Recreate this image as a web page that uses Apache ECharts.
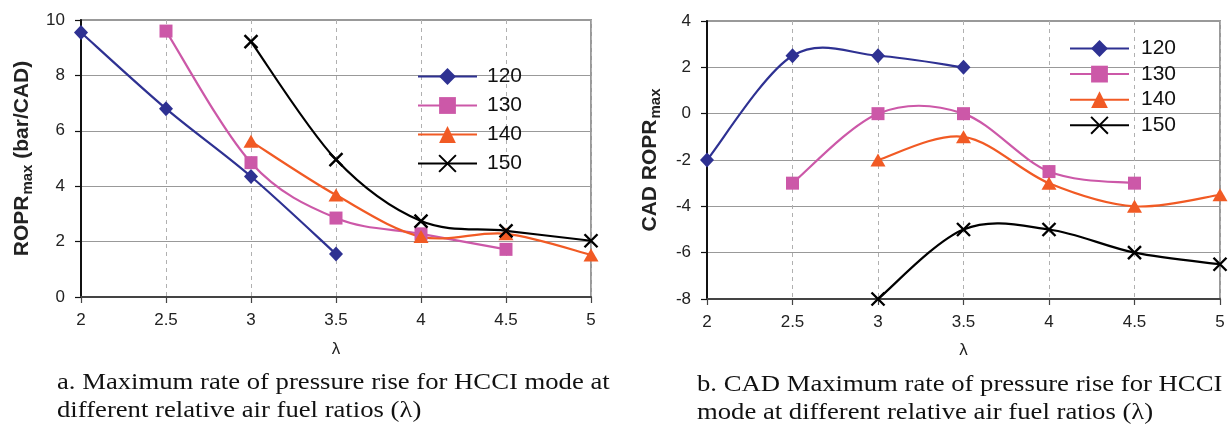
<!DOCTYPE html>
<html>
<head>
<meta charset="utf-8">
<script src="https://cdn.jsdelivr.net/npm/echarts@6/dist/echarts.min.js"></script>
<style>
html,body{margin:0;padding:0;background:#fff;}
#c{width:1229px;height:424px;}
</style>
</head>
<body>
<div id="c"></div>
<script>
// ---- data ----
const lambda = [2, 2.5, 3, 3.5, 4, 4.5, 5];
const xTickLabels = ['2', '2.5', '3', '3.5', '4', '4.5', '5'];
const seriesNames = ['120', '130', '140', '150'];
// (a) ROPR max (bar/CAD)
const ropr120 = [9.55, 6.8, 4.35, 1.55, null, null, null];
const ropr130 = [null, 9.6, 4.85, 2.85, 2.28, 1.72, null];
const ropr140 = [null, null, 5.62, 3.68, 2.18, 2.28, 1.52];
const ropr150 = [null, null, 9.22, 4.96, 2.74, 2.39, 2.03];
const roprTicks = ['0', '2', '4', '6', '8', '10'];
// (b) CAD ROPR max
const cad120 = [-2, 2.5, 2.5, 2, null, null, null];
const cad130 = [null, -3, 0, 0, -2.5, -3, null];
const cad140 = [null, null, -2, -1, -3, -4, -3.5];
const cad150 = [null, null, -8, -5, -5, -6, -6.5];
const cadTicks = ['-8', '-6', '-4', '-2', '0', '2', '4'];
const captionA = ['a. Maximum rate of pressure rise for HCCI mode at', 'different relative air fuel ratios (λ)'];
const captionB = ['b. CAD Maximum rate of pressure rise for HCCI', 'mode at different relative air fuel ratios (λ)'];

// ---- styling ----
const colors = ['#2E3192', '#CC58A8', '#F15A24', '#000000'];
const crossPath = 'path://M0,0L10,10M10,0L0,10';
const symbols = ['diamond', 'rect', 'triangle', crossPath];
const symSizes = [[14, 15], [13, 13], [15, 13], [13, 13]];
const FONT = 'Liberation Sans, Arial, sans-serif';

function pairs(vals) {
  const out = [];
  lambda.forEach((x, i) => { if (vals[i] !== null) out.push([x, vals[i]]); });
  return out;
}

// marker series (line hidden; the smooth curve is drawn by the custom series)
function markerSeries(vals, k, axisIdx) {
  const isCross = k === 3;
  return {
    name: seriesNames[k],
    type: 'line',
    xAxisIndex: axisIdx,
    yAxisIndex: axisIdx,
    data: pairs(vals),
    clip: false,
    symbol: symbols[k],
    symbolSize: symSizes[k],
    showSymbol: true,
    lineStyle: { color: colors[k], width: 2.2, opacity: 0 },
    itemStyle: isCross
      ? { color: colors[k], borderColor: colors[k], borderWidth: 2.4 }
      : { color: colors[k], borderWidth: 0 },
    emphasis: { disabled: true },
    z: 5 + k
  };
}

// smoothed curve (Catmull-Rom style Bezier, like a spreadsheet "smoothed line"),
// positioned through the chart's own axes with api.coord
function curveSeries(vals, k, axisIdx) {
  const pts = pairs(vals);
  return {
    type: 'custom',
    coordinateSystem: 'cartesian2d',
    xAxisIndex: axisIdx,
    yAxisIndex: axisIdx,
    data: pts,
    encode: { x: 0, y: 1 },
    silent: true,
    clip: false,
    z: 2 + k,
    renderItem: function (params, api) {
      if (params.dataIndex !== 0) return null;
      const p = pts.map(d => api.coord(d));
      let d = 'M' + p[0][0] + ',' + p[0][1];
      for (let i = 0; i < p.length - 1; i++) {
        const p0 = p[i - 1] || p[i], p1 = p[i], p2 = p[i + 1], p3 = p[i + 2] || p[i + 1];
        const c1x = p1[0] + (p2[0] - p0[0]) / 6, c1y = p1[1] + (p2[1] - p0[1]) / 6;
        const c2x = p2[0] - (p3[0] - p1[0]) / 6, c2y = p2[1] - (p3[1] - p1[1]) / 6;
        d += ' C' + c1x + ',' + c1y + ' ' + c2x + ',' + c2y + ' ' + p2[0] + ',' + p2[1];
      }
      return {
        type: 'path',
        shape: { pathData: d },
        style: { stroke: colors[k], lineWidth: 2.2, fill: 'none' }
      };
    }
  };
}

function xAxisFor(gi, nameGap) {
  return {
    type: 'value', gridIndex: gi, min: 2, max: 5, interval: 0.5,
    name: 'λ', nameLocation: 'middle', nameGap: nameGap,
    nameTextStyle: { fontFamily: FONT, fontSize: 17, color: '#222' },
    axisLine: { show: true, onZero: false, lineStyle: { color: '#444', width: 2 } },
    axisTick: { show: true, inside: false, length: 6, lineStyle: { color: '#444', width: 1.2 } },
    axisLabel: {
      fontFamily: FONT, fontSize: 17, color: '#222', margin: 15,
      formatter: v => xTickLabels[lambda.indexOf(v)] ?? ''
    },
    splitLine: { show: true, lineStyle: { color: '#b0b0b0', type: [4, 4], width: 1 } }
  };
}

function yAxisFor(gi, min, max, ticks, nameRich, nameGap) {
  return {
    type: 'value', gridIndex: gi, min: min, max: max, interval: 2,
    name: nameRich, nameLocation: 'middle', nameGap: nameGap, nameRotate: 90,
    nameTextStyle: {
      fontFamily: FONT, color: '#222',
      rich: {
        a: { fontFamily: FONT, fontSize: 21, fontWeight: 'bold', color: '#222', lineHeight: 26, verticalAlign: 'middle' },
        s: { fontFamily: FONT, fontSize: 15, fontWeight: 'bold', color: '#222', lineHeight: 26, verticalAlign: 'bottom', padding: [8, 0, 0, 1] }
      }
    },
    axisLine: { show: true, onZero: false, lineStyle: { color: '#111', width: 2 } },
    axisTick: { show: true, inside: false, length: 6, lineStyle: { color: '#111', width: 1.2 } },
    axisLabel: {
      fontFamily: FONT, fontSize: 17, color: '#222', margin: 16,
      formatter: v => ticks[Math.round((v - min) / 2)] ?? ''
    },
    splitLine: { show: true, lineStyle: { color: '#999', width: 1 } }
  };
}

function legendAt(left, top, gap, pad) {
  return {
    orient: 'vertical', left: left, top: top, padding: 0,
    data: seriesNames,
    itemWidth: 59, itemHeight: 21, itemGap: gap,
    selectedMode: false,
    lineStyle: { opacity: 1 },
    textStyle: { fontFamily: FONT, fontSize: 21, color: '#111', padding: [0, 0, 0, pad] },
    backgroundColor: 'transparent'
  };
}

function captionGraphic(lines, x, tops) {
  return lines.map((t, i) => ({
    type: 'text', x: x, y: tops[i], scaleX: 1.16, silent: true,
    style: { text: t, fontFamily: 'Liberation Serif, Times New Roman, serif', fontSize: 23, fill: '#111', verticalAlign: 'top' }
  }));
}

const chart = echarts.init(document.getElementById('c'), null, { renderer: 'canvas' });
const option = {
  backgroundColor: '#fff',
  animation: false,
  grid: [
    { left: 81, top: 20, width: 510, height: 277, show: true, borderColor: '#999', borderWidth: 2, backgroundColor: 'transparent', containLabel: false },
    { left: 707, top: 21, width: 513, height: 278, show: true, borderColor: '#999', borderWidth: 2, backgroundColor: 'transparent', containLabel: false }
  ],
  xAxis: [xAxisFor(0, 44), xAxisFor(1, 43)],
  yAxis: [
    yAxisFor(0, 0, 10, roprTicks, '{a|ROPR}{s|max}{a| (bar/CAD)}', 46),
    yAxisFor(1, -8, 4, cadTicks, '{a|CAD ROPR}{s|max}', 44)
  ],
  legend: [legendAt(417, 66, 8, 5), legendAt(1069, 38, 4.6, 7)],
  series: [
    curveSeries(ropr120, 0, 0), curveSeries(ropr130, 1, 0), curveSeries(ropr140, 2, 0), curveSeries(ropr150, 3, 0),
    curveSeries(cad120, 0, 1), curveSeries(cad130, 1, 1), curveSeries(cad140, 2, 1), curveSeries(cad150, 3, 1),
    markerSeries(ropr120, 0, 0), markerSeries(ropr130, 1, 0), markerSeries(ropr140, 2, 0), markerSeries(ropr150, 3, 0),
    markerSeries(cad120, 0, 1), markerSeries(cad130, 1, 1), markerSeries(cad140, 2, 1), markerSeries(cad150, 3, 1)
  ],
  graphic: [].concat(captionGraphic(captionA, 57, [371, 399]), captionGraphic(captionB, 697, [373, 401]))
};
chart.setOption(option);
</script>
</body>
</html>
